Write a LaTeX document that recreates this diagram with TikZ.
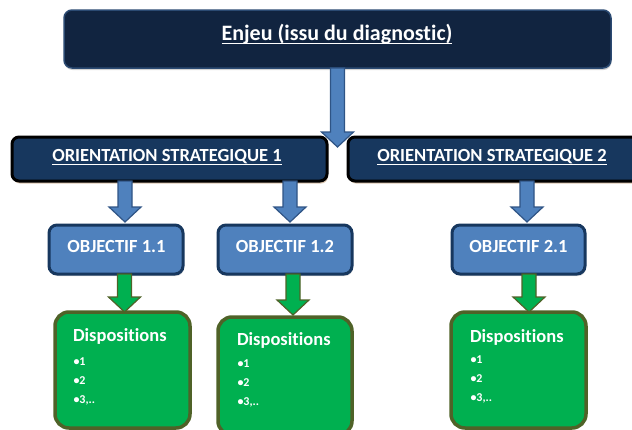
\documentclass[tikz,border=0pt]{standalone}
\usepackage{fontspec}
\setmainfont{Carlito}[RawFeature={-liga;-clig}]
\usetikzlibrary{calc,shadows}
\definecolor{enjeufill}{HTML}{112440}
\definecolor{enjeuedge}{HTML}{2B4A72}
\definecolor{orfill}{HTML}{17375E}
\definecolor{objfill}{HTML}{4F81BD}
\definecolor{objedge}{HTML}{17375E}
\definecolor{barrowedge}{HTML}{2F5485}
\definecolor{dispfill}{HTML}{00B050}
\definecolor{dispedge}{HTML}{4F6228}
\definecolor{orshadow}{HTML}{B08050}
\newcommand\blockarrow[3]{%
  \filldraw[#1] let \p1=(#2), \p2=(#3) in
    (\x1-7pt,\y1) -- (\x1-7pt,\y2+15pt) -- (\x1-16pt,\y2+15pt) -- (\x1,\y2)
    -- (\x1+16pt,\y2+15pt) -- (\x1+7pt,\y2+15pt) -- (\x1+7pt,\y1) -- cycle;}
\begin{document}
\begin{tikzpicture}[x=1pt,y=-1pt,
  every node/.style={inner sep=0pt, outer sep=0pt},
  enjeubox/.style={draw=enjeuedge, line width=1.5pt, fill=enjeufill, rounded corners=8pt,
    drop shadow={shadow xshift=0.5pt, shadow yshift=-2pt, opacity=0.35}},
  orbox/.style={draw=black, line width=3pt, fill=orfill, rounded corners=7pt,
    drop shadow={shadow xshift=1pt, shadow yshift=-2.5pt, fill=orshadow, opacity=0.45}},
  objbox/.style={draw=objedge, line width=3pt, fill=objfill, rounded corners=8pt,
    drop shadow={shadow xshift=1pt, shadow yshift=-2pt, opacity=0.3}},
  dispbox/.style={draw=dispedge, line width=3.5pt, fill=dispfill, rounded corners=14pt},
  barrow/.style={fill=objfill, draw=barrowedge, line width=1.2pt},
  garrow/.style={fill=dispfill, draw=dispedge, line width=1.2pt},
  bigtxt/.style={text=white, font=\fontsize{22}{26}\selectfont\bfseries, anchor=base},
  ortxt/.style={text=white, font=\fontsize{18.5}{22}\selectfont\bfseries, anchor=base},
  objtxt/.style={text=white, font=\fontsize{18.5}{22}\selectfont\bfseries, anchor=base},
  disptxt/.style={text=white, font=\fontsize{18.5}{22}\selectfont\bfseries, anchor=base west},
  bultxt/.style={text=white, font=\fontsize{12}{14}\selectfont\bfseries, anchor=base west},
  ul/.style={draw=white, line width=1.3pt}
]
\useasboundingbox (0,0) rectangle (632,429);

% boxes
\node[enjeubox, minimum width=547pt, minimum height=58pt, anchor=north west] (e) at (64,10) {};
\node[orbox, minimum width=315pt, minimum height=44pt, anchor=north west] (or1) at (12,137) {};
\node[orbox, minimum width=300pt, minimum height=44pt, anchor=north west] (or2) at (348,137) {};
\node[objbox, minimum width=134pt, minimum height=49pt, anchor=north west] (o11) at (49,225) {};
\node[objbox, minimum width=134pt, minimum height=49pt, anchor=north west] (o12) at (218,225) {};
\node[objbox, minimum width=133pt, minimum height=49pt, anchor=north west] (o21) at (452,225) {};
\node[dispbox, minimum width=135pt, minimum height=116pt, anchor=north west] (d11) at (55,312) {};
\node[dispbox, minimum width=134pt, minimum height=118pt, anchor=north west] (d12) at (218,317) {};
\node[dispbox, minimum width=135pt, minimum height=116pt, anchor=north west] (d21) at (451,312) {};

% texts
\node[bigtxt] (te) at (337,40) {Enjeu (issu du diagnostic)};
\draw[ul] ([yshift=-3.5pt]te.base west) -- ([yshift=-3.5pt]te.base east);
\node[ortxt] (tor1) at (167,161.5) {ORIENTATION STRATEGIQUE 1};
\draw[ul] ([yshift=-3pt]tor1.base west) -- ([yshift=-3pt]tor1.base east);
\node[ortxt] (tor2) at (492,161.5) {ORIENTATION STRATEGIQUE 2};
\draw[ul] ([yshift=-3pt]tor2.base west) -- ([yshift=-3pt]tor2.base east);
\node[objtxt] (to11) at (116.5,252) {OBJECTIF 1.1};
\node[objtxt] (to12) at (285,252) {OBJECTIF 1.2};
\node[objtxt] (to21) at (518.5,252) {OBJECTIF 2.1};

\node[disptxt] (td11) at (73,341) {Dispositions};
\node[bultxt] (b11a) at (73.5,365) {•1};
\node[bultxt] (b11b) at (73.5,384) {•2};
\node[bultxt] (b11c) at (73.5,403) {•3,..};
\node[disptxt] (td12) at (237,345) {Dispositions};
\node[bultxt] (b12a) at (237.5,367) {•1};
\node[bultxt] (b12b) at (237.5,386) {•2};
\node[bultxt] (b12c) at (237.5,405) {•3,..};
\node[disptxt] (td21) at (470,342) {Dispositions};
\node[bultxt] (b21a) at (470.5,363.5) {•1};
\node[bultxt] (b21b) at (470.5,382.5) {•2};
\node[bultxt] (b21c) at (470.5,401.5) {•3,..};

% blue arrows
\coordinate (tip0) at ($(or1.north east)!0.5!(or2.north west)+(0,10)$);
\blockarrow{barrow}{e.south}{tip0}
\blockarrow{barrow}{$(o11.north |- or1.south)+(9,0)$}{$(o11.north)+(0,-3)$}
\blockarrow{barrow}{$(o12.north |- or1.south)+(5,0)$}{$(o12.north)+(0,-3)$}
\blockarrow{barrow}{$(o21.north |- or2.south)+(8.5,0)$}{$(o21.north)+(0,-3)$}
% green arrows
\blockarrow{garrow}{$(o11.south)+(8.5,0)$}{d11.north}
\blockarrow{garrow}{$(o12.south)+(8,0)$}{$(d12.north)+(0,-2)$}
\blockarrow{garrow}{$(o21.south)+(10.5,0)$}{d21.north}
\end{tikzpicture}
\end{document}
